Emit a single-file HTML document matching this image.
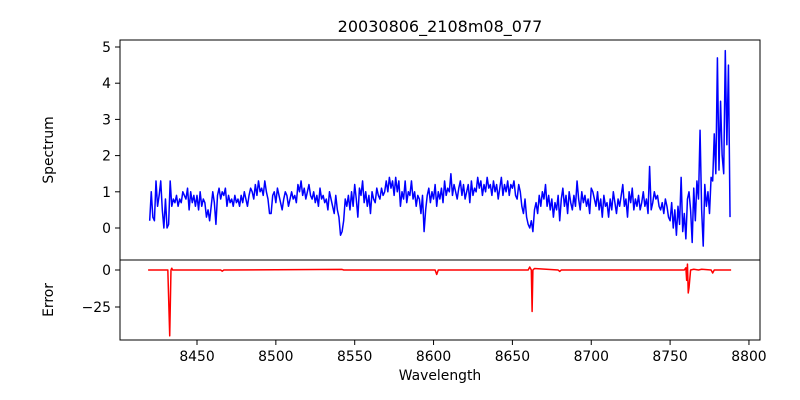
<!DOCTYPE html>
<html><head><meta charset="utf-8"><style>
body{margin:0;background:#fff}
svg{display:block;font-family:"DejaVu Sans","Liberation Sans",sans-serif}
</style></head><body>
<svg id="chart" width="800" height="400" viewBox="0 0 800 400">
<rect width="800" height="400" fill="#fff"/>
<text x="440" y="32" font-size="16" text-anchor="middle">20030806_2108m08_077</text>
<g id="topPanel"></g>
<g id="botPanel"></g>
<text x="440" y="380" font-size="13.9" text-anchor="middle">Wavelength</text>
<text transform="translate(53,150) rotate(-90)" font-size="13.9" text-anchor="middle">Spectrum</text>
<text transform="translate(53,300) rotate(-90)" font-size="13.9" text-anchor="middle">Error</text>
</svg>
<script>
const specStart = 8420;
const specValues = [
0.2,1.0,0.3,0.2,1.3,0.6,0.9,1.3,0.5,0.0,
0.8,0.0,0.1,1.3,0.6,0.8,0.7,0.9,0.6,0.8,
0.7,1.0,0.9,0.8,1.1,0.5,1.0,0.7,0.9,0.6,
0.9,0.5,1.0,0.6,0.8,0.7,0.3,0.5,0.2,0.6,
1.0,0.7,0.1,0.9,1.1,0.8,1.0,0.9,1.1,0.6,
0.9,0.7,0.8,0.6,0.9,0.7,0.8,0.6,0.9,0.7,
1.0,0.8,0.6,0.9,1.1,1.0,0.8,1.2,0.9,1.3,
1.0,1.1,0.9,1.3,1.0,0.8,0.4,0.4,0.9,1.0,
0.7,1.1,0.9,0.7,0.5,0.8,1.0,0.9,0.6,0.8,
1.0,0.8,0.9,0.7,1.2,1.0,1.3,0.9,1.1,0.8,
1.0,1.2,0.9,0.8,1.0,0.7,0.9,0.6,1.1,0.8,
0.9,0.7,0.8,0.5,1.0,0.8,0.6,0.4,0.9,0.5,
0.3,-0.2,-0.1,0.2,0.8,0.6,0.9,0.5,1.0,0.6,
1.2,0.8,0.3,1.1,0.9,1.3,0.7,1.0,0.6,0.9,
0.4,1.0,0.8,0.7,1.1,0.9,0.8,1.1,0.9,1.0,
1.3,1.0,1.4,1.1,1.3,0.9,1.4,1.0,1.3,0.6,
1.0,0.8,1.3,0.7,1.0,0.9,1.3,0.8,1.0,0.6,
0.9,0.8,0.4,0.9,-0.1,0.5,0.9,1.1,0.7,1.0,
0.8,1.2,0.6,1.0,0.8,1.1,0.7,1.3,0.9,1.1,
1.0,1.5,0.9,1.2,1.0,0.8,1.1,1.3,0.9,1.2,
0.8,1.0,1.2,0.7,1.3,0.9,1.1,1.0,1.4,1.1,
1.3,0.9,1.2,1.0,1.4,1.1,1.2,0.9,1.3,1.0,
1.2,0.8,1.1,1.4,0.9,1.2,1.0,1.3,0.9,1.2,
1.1,1.3,0.9,0.8,1.2,1.0,0.6,0.4,0.8,0.3,
0.1,0.0,0.2,-0.1,0.5,0.7,0.4,0.9,0.6,1.0,
0.8,1.2,0.6,0.9,0.5,0.8,0.3,0.7,0.5,0.9,
0.2,0.8,1.1,0.6,0.9,0.4,1.0,0.7,0.5,0.9,
0.6,1.3,0.8,0.5,1.0,0.7,0.9,0.6,0.8,0.4,
1.1,1.0,0.8,0.6,1.0,0.5,0.8,0.3,0.9,0.6,
0.7,0.3,0.8,0.5,1.0,0.7,0.4,0.8,0.6,0.9,
1.2,0.6,0.8,0.3,1.0,0.7,1.1,0.5,0.8,0.6,
0.9,0.5,0.7,1.0,0.6,0.8,0.4,1.7,0.5,0.7,
1.0,0.8,0.9,0.6,0.5,0.7,0.4,0.8,0.6,0.3,
0.2,0.7,0.0,0.5,-0.2,0.6,0.1,1.4,-0.1,0.4,
-0.3,0.8,1.0,0.5,-0.4,1.1,0.2,1.3,0.8,2.7,
0.5,-0.5,1.2,0.6,1.0,0.4,1.4,1.3,2.6,1.5,
4.7,1.6,3.5,2.0,1.5,4.9,2.3,4.5,0.3];
const errW = [8419,8431.5,8432.7,8433.5,8434,8434.5,8465,8466,8467,8542,8543,8601,8602,8603,8660,8661,8662,8662.5,8663,8664,8679,8680,8681,8750,8759,8760,8760.5,8761,8761.5,8762,8763,8765,8768,8770,8776,8777,8778,8788.7];
const errV = [0,0,-44.5,0,1.2,0,0,-0.8,0,0.4,0,0,-3,0,0,2,0,-28,0,1,0,-1,0,0,0,1.5,-7,4,-15.5,-12,0,0.5,0,0.5,0,-2,0,0];
const xTicks = [8450,8500,8550,8600,8650,8700,8750,8800];
const specTicks = [0,1,2,3,4,5];
const errTicks = [0,-25];

const NS="http://www.w3.org/2000/svg";
const L=120,R=760;
const xS = w => 197 + (w-8450)*1.577;
const yS = v => 228 - v*36.2;
const yE = v => 270 - v*1.48;
function mk(tag, attrs, parent){const e=document.createElementNS(NS,tag);for(const k in attrs)e.setAttribute(k,attrs[k]);parent.appendChild(e);return e;}
const topG=document.getElementById('topPanel'), botG=document.getElementById('botPanel');

let d='';
specValues.forEach((v,i)=>{d+=(i?'L':'M')+xS(specStart+i).toFixed(2)+','+yS(v).toFixed(2);});
const sp=mk('path',{d:d,fill:'none',stroke:'#0000ff','stroke-width':1.5,'stroke-linejoin':'round'},topG);



d='';
errW.forEach((w,i)=>{d+=(i?'L':'M')+xS(w).toFixed(2)+','+yE(errV[i]).toFixed(2);});
const ep=mk('path',{d:d,fill:'none',stroke:'#ff0000','stroke-width':1.5,'stroke-linejoin':'round'},botG);



const f1=mk('rect',{x:L,y:40,width:R-L,height:220,fill:'none',stroke:'#000','stroke-width':1},topG);


const f2=mk('rect',{x:L,y:260,width:R-L,height:80,fill:'none',stroke:'#000','stroke-width':1},botG);



specTicks.forEach(t=>{
  const yy=yS(t);
  mk('line',{x1:L-5,x2:L,y1:yy,y2:yy,stroke:'#000'},topG);
  const tx=mk('text',{x:L-9,y:yy+5,'font-size':13.9,'text-anchor':'end'},topG);
  tx.textContent=t;
  
  
});
errTicks.forEach(t=>{
  const yy=yE(t);
  mk('line',{x1:L-5,x2:L,y1:yy,y2:yy,stroke:'#000'},botG);
  const tx=mk('text',{x:L-9,y:yy+5,'font-size':13.9,'text-anchor':'end'},botG);
  tx.textContent=t<0?'\u2212'+(-t):t;
  
  
});
xTicks.forEach(t=>{
  const xx=xS(t);
  mk('line',{x1:xx,x2:xx,y1:340,y2:345,stroke:'#000'},botG);
  const tx=mk('text',{x:xx,y:361,'font-size':13.9,'text-anchor':'middle'},botG);
  tx.textContent=t;
  
  
});
</script>
</body></html>
